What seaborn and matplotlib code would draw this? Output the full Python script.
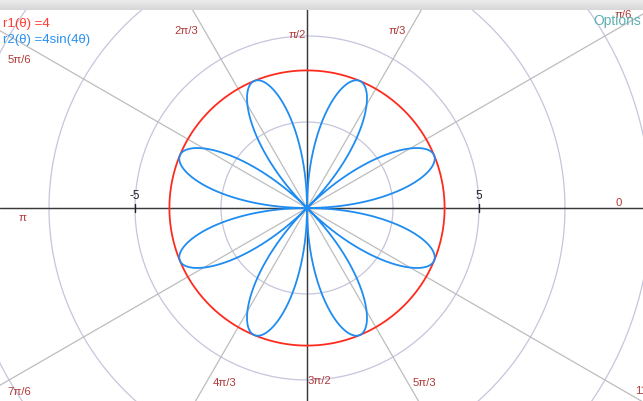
import numpy as np
import pandas as pd
import matplotlib
matplotlib.use("Agg")
import matplotlib.pyplot as plt
import seaborn as sns

# ---- data ----
circle_radius = 4            # r1(θ) = 4
rose_amp = 4                 # r2(θ) = 4 sin(4θ)
rose_k = 4
grid_radii = [2.5, 5, 7.5, 10]
spoke_angles_deg = [0, 30, 60, 90, 120, 150, 180, 210, 240, 270, 300, 330]
angle_labels = ["0", "π/6", "π/3", "π/2", "2π/3", "5π/6", "π",
                "7π/6", "4π/3", "3π/2", "5π/3", "11π/6"]
x_tick_values = [-5, 5]
x_tick_labels = ["-5", "5"]
legend_texts = ["r1(θ) =4", "r2(θ) =4sin(4θ)"]

# ---- style ----
sns.set_style("white")
plt.rcParams["font.family"] = ["Liberation Sans", "DejaVu Sans"]

W, H = 643, 402
scale = 34.4                  # px per unit
cx, cy = 307, 209             # center in px
fig = plt.figure(figsize=(W / 100, H / 100), dpi=100)
ax = fig.add_axes([0, 0, 1, 1])
ax.set_xlim(-cx / scale, (W - cx) / scale)
ax.set_ylim(-(H - cy) / scale, cy / scale)
ax.set_aspect("equal")
ax.axis("off")

theta = np.linspace(0, 2 * np.pi, 1441)

# grid circles
for r in grid_radii:
    df = pd.DataFrame({"x": r * np.cos(theta), "y": r * np.sin(theta)})
    sns.lineplot(data=df, x="x", y="y", sort=False, ax=ax, color="#c5c5dd",
                 lw=0.9, estimator=None, zorder=1)

# spokes
for a in spoke_angles_deg:
    t = np.deg2rad(a)
    df = pd.DataFrame({"x": [0, 14 * np.cos(t)], "y": [0, 14 * np.sin(t)]})
    sns.lineplot(data=df, x="x", y="y", sort=False, ax=ax, color="#bdbdbd",
                 lw=0.9, estimator=None, zorder=1)

# axes
ax.axhline(0, color="#3a3a3a", lw=1.0, zorder=2)
ax.axvline(0, color="#3a3a3a", lw=1.0, zorder=2)
for v, lab in zip(x_tick_values, x_tick_labels):
    ax.plot([v, v], [-0.12, 0.12], color="#222222", lw=1.0, zorder=2)
    ax.text(v, 0.2, lab, ha="center", va="bottom", fontsize=8.5, color="#222222")

# curves
df1 = pd.DataFrame({"x": circle_radius * np.cos(theta), "y": circle_radius * np.sin(theta)})
sns.lineplot(data=df1, x="x", y="y", sort=False, ax=ax, color="#ff2a1e",
             lw=1.3, estimator=None, zorder=3)
r2 = rose_amp * np.sin(rose_k * theta)
df2 = pd.DataFrame({"x": r2 * np.cos(theta), "y": r2 * np.sin(theta)})
sns.lineplot(data=df2, x="x", y="y", sort=False, ax=ax, color="#1e8cf0",
             lw=1.3, estimator=None, zorder=4)

# angle labels (positions in px)
label_pos = [(619, 203, "center"), (623, 15, "center"), (397, 31, "center"),
             (297, 35, "center"), (186, 31, "center"), (19, 60, "center"),
             (22, 218, "center"), (19, 392, "center"), (225, 383, "center"),
             (308, 381, "left"), (424, 383, "center"), (635, 391, "left")]
for lab, (px, py, ha) in zip(angle_labels, label_pos):
    ax.text((px - cx) / scale, (cy - py) / scale, lab, ha=ha, va="center",
            fontsize=8.2, color="#b03a3a", zorder=6)

# legend texts
fig.text(3 / W, 1 - 24.5 / H, legend_texts[0], ha="left", va="center",
         fontsize=9.5, color="#ff3b30")
fig.text(3 / W, 1 - 40.5 / H, legend_texts[1], ha="left", va="center",
         fontsize=9.5, color="#2a90f0")

# Options text
fig.text(641 / W, 1 - 20.5 / H, "Options", ha="right", va="center",
         fontsize=10, color="#5fb0b0")

# top gray bar
bar = fig.add_axes([0, 1 - 11 / H, 1, 11 / H])
grad = np.linspace(0.93, 0.84, 20).reshape(-1, 1)
bar.imshow(np.repeat(grad, 2, axis=1), cmap="gray", vmin=0, vmax=1,
           aspect="auto", extent=[0, 1, 0, 1])
bar.axis("off")

fig.savefig("out.png", dpi=100)
